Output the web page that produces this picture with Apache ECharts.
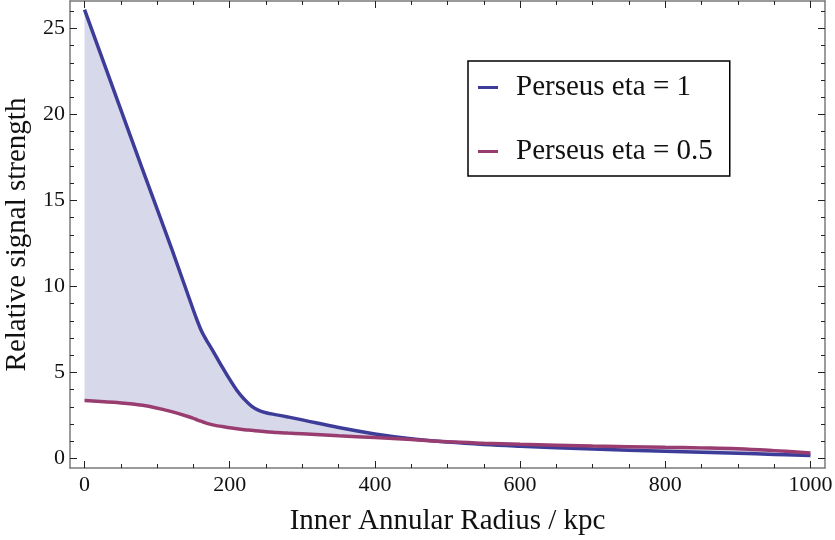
<!DOCTYPE html>
<html>
<head>
<meta charset="utf-8">
<title>Perseus signal</title>
<script src="https://cdn.jsdelivr.net/npm/echarts@6/dist/echarts.min.js"></script>
<style>
html, body {margin:0; padding:0; background:#fff;}
#con {width:835px; height:540px;}
</style>
</head>
<body>
<div id="con"></div>
<script>
// radius (kpc) and relative signal strength
var radius = [0, 40, 80, 120, 150, 155, 160, 165, 170, 180, 190, 200, 210, 220, 230, 240, 250,
              265, 280, 300, 350, 400, 450, 500, 550, 600, 700, 800, 850, 900, 950, 1000];
var eta1 = [26.1, 21.45, 16.8, 12.2, 8.62, 8.05, 7.52, 7.1, 6.74, 6.03, 5.3, 4.6, 3.96, 3.45, 3.05, 2.8, 2.66,
            2.54, 2.42, 2.25, 1.8, 1.43, 1.15, 0.96, 0.82, 0.72, 0.55, 0.43, 0.37, 0.31, 0.24, 0.17];
var eta05 = [3.38, 3.27, 3.1, 2.73, 2.34, 2.25, 2.17, 2.1, 2.03, 1.93, 1.86, 1.79, 1.73, 1.68, 1.64, 1.6, 1.56,
             1.52, 1.48, 1.44, 1.32, 1.22, 1.1, 0.97, 0.89, 0.83, 0.73, 0.65, 0.62, 0.57, 0.46, 0.32];

var xMajor = [0, 200, 400, 600, 800, 1000];
var xMinor = [0, 50, 100, 150, 200, 250, 300, 350, 400, 450, 500, 550, 600, 650, 700,
              750, 800, 850, 900, 950, 1000];
var yMajor = [0, 5, 10, 15, 20, 25];
var yMinor = [0, 1, 2, 3, 4, 5, 6, 7, 8, 9, 10, 11, 12, 13, 14, 15, 16, 17, 18, 19, 20,
              21, 22, 23, 24, 25, 26];

var names = ['Perseus eta = 1', 'Perseus eta = 0.5'];
var font = 'Liberation Serif';
var frameColor = '#7a7a7a';
var tickColor = '#222';

function pairs(ys) {
	return radius.map(function (x, i) { return [x, ys[i]]; });
}

// axis helper: one frame side, major or minor ticks
function xAx(pos, vals, len, labels, line) {
	return {
		type: 'value', min: -20, max: 1020, position: pos,
		axisLine: {show: line, onZero: false, lineStyle: {color: frameColor, width: 1.5}},
		axisTick: {show: true, inside: true, length: len, customValues: vals,
			lineStyle: {color: tickColor, width: 1}},
		axisLabel: labels ? {show: true, customValues: xMajor, margin: 6,
			formatter: function (v) { return String(v); },
			color: '#111', fontSize: 22, fontFamily: font} : {show: false},
		splitLine: {show: false}
	};
}
function yAx(pos, vals, len, labels, line) {
	return {
		type: 'value', min: -0.55, max: 26.6, position: pos,
		axisLine: {show: line, onZero: false, lineStyle: {color: frameColor, width: 1.5}},
		axisTick: {show: true, inside: true, length: len, customValues: vals,
			lineStyle: {color: tickColor, width: 1}},
		axisLabel: labels ? {show: true, customValues: yMajor, margin: 5,
			formatter: function (v) { return String(v); },
			color: '#111', fontSize: 22, fontFamily: font} : {show: false},
		splitLine: {show: false}
	};
}

var xAxes = [xAx('bottom', xMajor, 7, true, true), xAx('bottom', xMinor, 4, false, false),
             xAx('top', xMajor, 7, false, true), xAx('top', xMinor, 4, false, false)];
xAxes[0].name = 'Inner Annular Radius / kpc';
xAxes[0].nameLocation = 'middle';
xAxes[0].nameGap = 39;
xAxes[0].nameTextStyle = {fontSize: 29, fontFamily: font, color: '#111'};

var yAxes = [yAx('left', yMajor, 7, true, true), yAx('left', yMinor, 4, false, false),
             yAx('right', yMajor, 7, false, true), yAx('right', yMinor, 4, false, false)];
yAxes[0].name = 'Relative signal strength';
yAxes[0].nameLocation = 'middle';
yAxes[0].nameGap = 31;
yAxes[0].nameTextStyle = {fontSize: 29, fontFamily: font, color: '#111'};

// shaded band between the two curves
function renderBand(params, api) {
	var pts = [];
	for (var i = 0; i < radius.length; i++) {
		pts.push(api.coord([radius[i], eta1[i]]));
	}
	for (var j = radius.length - 1; j >= 0; j--) {
		pts.push(api.coord([radius[j], eta05[j]]));
	}
	return {
		type: 'polygon',
		shape: {points: pts},
		style: {fill: '#d8d8eb', stroke: null}
	};
}

var myChart = echarts.init(document.getElementById('con'));
var option = {
	animation: false,
	backgroundColor: '#fff',
	textStyle: {fontFamily: font},
	grid: {left: 70, right: 10, top: 1, bottom: 72, outerBoundsMode: 'none'},
	xAxis: xAxes,
	yAxis: yAxes,
	legend: {
		data: names,
		orient: 'vertical',
		left: 468, top: 61,
		padding: [12, 17, 10, 10],
		itemGap: 35,
		itemWidth: 20, itemHeight: 3,
		icon: 'rect',
		borderColor: '#000', borderWidth: 1.5,
		backgroundColor: '#fff',
		textStyle: {fontSize: 29, fontFamily: font, color: '#111', padding: [0, 0, 0, 13]}
	},
	series: [{
		name: 'band', type: 'custom',
		renderItem: renderBand,
		data: [[radius[0], eta05[0]]],
		silent: true, z: 1
	}, {
		name: names[0], type: 'line', data: pairs(eta1),
		smooth: 0.4, symbol: 'none', z: 3,
		color: '#3d3d99',
		lineStyle: {color: '#3d3d99', width: 3.5}
	}, {
		name: names[1], type: 'line', data: pairs(eta05),
		smooth: 0.4, symbol: 'none', z: 4,
		color: '#993d71',
		lineStyle: {color: '#993d71', width: 3.5}
	}]
};
myChart.setOption(option);
</script>
</body>
</html>
